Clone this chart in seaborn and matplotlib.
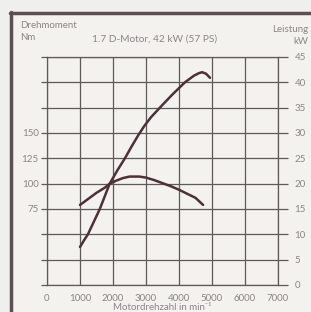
import matplotlib
matplotlib.use("Agg")
import matplotlib.pyplot as plt
from matplotlib.lines import Line2D
import pandas as pd
import seaborn as sns

# torque curve (Nm)
torque_rpm = [1000, 1250, 1500, 1750, 1900, 2100, 2300, 2500, 2800, 3000, 3250, 3500, 3750, 4000, 4250, 4500, 4730]
torque_nm = [79, 85, 91, 96, 100, 103, 105.5, 107, 107, 106, 103.5, 100.5, 97.5, 94, 90, 86, 79]

# power curve (kW)
power_rpm = [1000, 1120, 1240, 1420, 1600, 1750, 1900, 2130, 2360, 2560, 2760, 2950, 3150, 3420, 3800, 4180, 4450, 4600, 4700, 4820, 4940]
power_kw = [7.5, 8.8, 10, 12.5, 15, 17.5, 20, 22.6, 25, 27.3, 29.5, 31.4, 33.1, 35, 37.6, 40, 41.3, 41.8, 42, 41.7, 40.9]

rpm_ticks = [0, 1000, 2000, 3000, 4000, 5000, 6000, 7000]
nm_ticks = [0, 25, 50, 75, 100, 125, 150, 175, 200, 225]
nm_labels = ["", "", "", "75", "100", "125", "150", "", "", ""]
kw_ticks = [0, 5, 10, 15, 20, 25, 30, 35, 40, 45]

sns.set_style("white")
plt.rcParams["font.family"] = ["Lato", "DejaVu Sans"]

bg = "#f3f2ee"
ink = "#4d3038"
grid_c = "#5f5a5a"
txt_c = "#8a8686"

fig = plt.figure(figsize=(3.11, 3.12), dpi=100, facecolor="#efefed")
W, H = 311, 312
ax = fig.add_axes([47 / W, 1 - 285 / H, (278 - 47) / W, (285 - 57) / H])
ax.set_facecolor(bg)

# inner panel background inside the frame
fig.patches.append(plt.Rectangle((12 / W, 0), 1, 1 - 13 / H, transform=fig.transFigure,
                                 facecolor=bg, edgecolor="none", zorder=-10))

tq = pd.DataFrame({"rpm": torque_rpm, "nm": torque_nm})
pw = pd.DataFrame({"rpm": power_rpm, "kw": power_kw})

sns.lineplot(data=tq, x="rpm", y="nm", ax=ax, color=ink, linewidth=1.8, sort=False)
ax.set_xlim(0, 7000)
ax.set_ylim(0, 225)
ax.set_xticks(rpm_ticks)
ax.set_xticklabels([str(t) for t in rpm_ticks])
ax.set_yticks(nm_ticks)
ax.set_yticklabels(nm_labels)
ax.grid(True, color=grid_c, linewidth=0.9)
ax.set_axisbelow(True)
ax.tick_params(axis="y", left=True, length=4, width=0.9, color=grid_c, labelsize=7, labelcolor=txt_c, pad=2)
ax.tick_params(axis="x", bottom=False, labelsize=7, labelcolor=txt_c, pad=3)
for s in ax.spines.values():
    s.set_color(grid_c)
    s.set_linewidth(0.9)
ax.set_xlabel("Motordrehzahl in min⁻¹", fontsize=7, color=txt_c, labelpad=0)
ax.set_ylabel("")

ax2 = ax.twinx()
sns.lineplot(data=pw, x="rpm", y="kw", ax=ax2, color=ink, linewidth=1.8, sort=False)
ax2.set_ylim(0, 45)
ax2.set_yticks(kw_ticks)
ax2.set_ylabel("")
ax2.tick_params(axis="y", right=True, length=7, width=0.9, color=grid_c, labelsize=7, labelcolor=txt_c, pad=5)
for s in ax2.spines.values():
    s.set_visible(False)

# texts at the top
fig.text(20 / W, 1 - 26 / H, "Drehmoment", fontsize=7, color=txt_c, va="center", ha="left")
fig.text(20 / W, 1 - 38 / H, "Nm", fontsize=7, color=txt_c, va="center", ha="left")
fig.text(155 / W, 1 - 39 / H, "1.7 D-Motor, 42 kW (57 PS)", fontsize=7.3, color=txt_c, va="center", ha="center")
fig.text(308 / W, 1 - 30 / H, "Leistung", fontsize=7, color=txt_c, va="center", ha="right")
fig.text(308 / W, 1 - 42 / H, "kW", fontsize=7, color=txt_c, va="center", ha="right")

# dark frame of the original print
frame_c = "#5b4f52"
fig.add_artist(Line2D([10.5 / W, 10.5 / W], [0, 1 - 12 / H], transform=fig.transFigure, color=frame_c, linewidth=2.5))
fig.add_artist(Line2D([9.5 / W, 1], [1 - 12.5 / H, 1 - 12.5 / H], transform=fig.transFigure, color=frame_c, linewidth=2.5))

fig.savefig("out.png", dpi=100, facecolor=fig.get_facecolor())
